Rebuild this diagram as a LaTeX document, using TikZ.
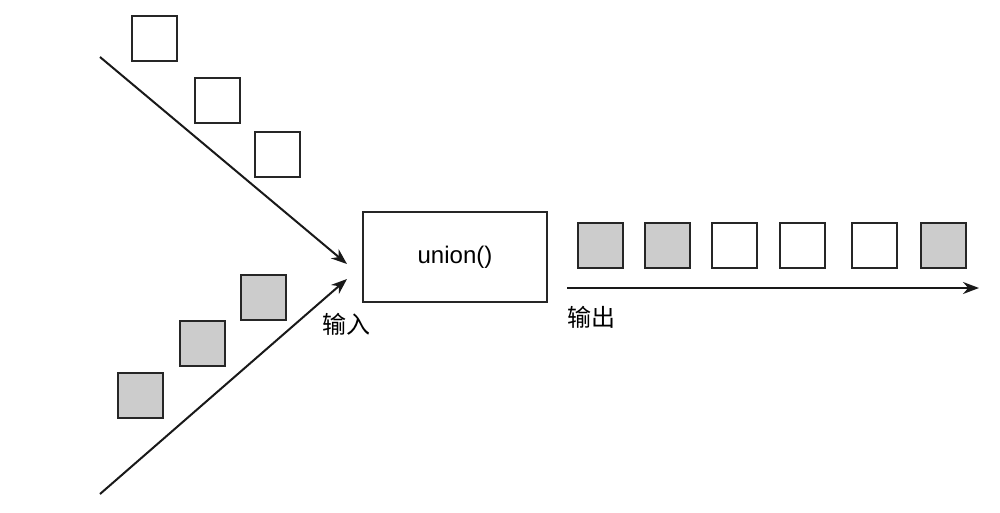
\documentclass[tikz,border=0pt]{standalone}
\usepackage{fontspec}
\setmainfont{Liberation Sans}
\newfontfamily\cjk{Noto Sans CJK SC}
\usepackage{tikz}
\usetikzlibrary{arrows.meta}
\tikzset{
  item/.style={draw=black!85, line width=2pt, minimum size=45pt, inner sep=0pt},
  grayitem/.style={item, fill=black!20},
  flow/.style={draw=black!90, line width=2pt, -{Stealth[length=16pt,width=12pt]}},
  label/.style={font=\cjk\fontsize{24}{24}\selectfont, inner sep=0pt}
}

\begin{document}
\begin{tikzpicture}[x=1pt, y=-1pt]
  \useasboundingbox (0,0) rectangle (1000,512);

  % first input stream
  \node[item](t1) at (154.5, 38.5){};
  \node[item](t2) at (217.5, 100){};
  \node[item](t3) at (277.5, 154){};

  % second input stream
  \node[grayitem](b1) at (140.5, 395.5){};
  \node[grayitem](b2) at (202, 343){};
  \node[grayitem](b3) at (263.5, 297){};

  \node[draw=black!85, line width=2pt, minimum width=184pt, minimum height=90pt,
        font=\fontsize{24}{24}\selectfont](u) at (455, 257){union()};
  \node[label](in) at (346, 324){输入};

  % output stream
  \node[grayitem](o1) at (600.5, 245){};
  \node[grayitem](o2) at (667.5, 245){};
  \node[item](o3) at (734.5, 245){};
  \node[item](o4) at (802, 245){};
  \node[item](o5) at (874, 245){};
  \node[grayitem](o6) at (943.5, 245){};
  \node[label](out) at (591, 317){输出};

  \coordinate (s1) at (100, 57);
  \coordinate (e1) at (347, 264);
  \coordinate (s2) at (100, 494);
  \coordinate (e2) at (347, 279);
  \coordinate (s3) at (567, 288);
  \coordinate (e3) at (979, 288);

  \draw[flow](s1)--(e1);
  \draw[flow](s2)--(e2);
  \draw[flow](s3)--(e3);
\end{tikzpicture}
\end{document}
